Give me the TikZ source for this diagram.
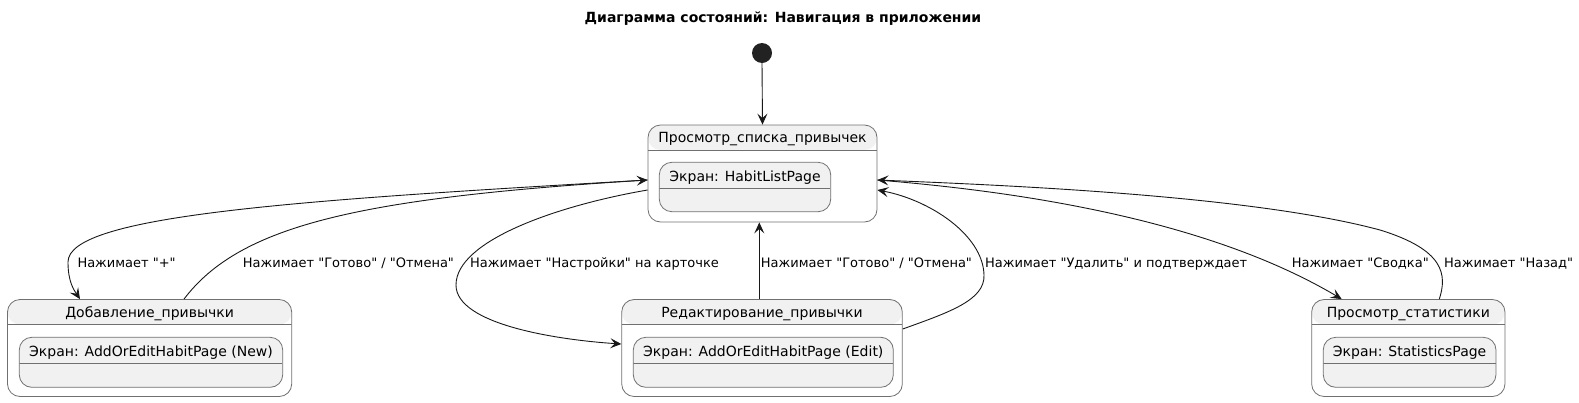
\documentclass[tikz,border=0pt]{standalone}
\usepackage{fontspec}
\setmainfont{DejaVu Sans}[Ligatures=TeXOff]
\usetikzlibrary{arrows.meta}
\definecolor{lineclr}{HTML}{181818}
\definecolor{boxclr}{HTML}{707070}
\definecolor{stategray}{HTML}{F1F1F1}
\definecolor{dotclr}{HTML}{222222}
\tikzset{
  stateouter/.style={draw=boxclr, line width=0.8pt, rounded corners=12.5pt, fill=white, inner sep=0pt,
    path picture={
      \fill[stategray] (path picture bounding box.north west) rectangle ([yshift=-25pt]path picture bounding box.north east);
      \draw[boxclr, line width=0.8pt] ([yshift=-25pt]path picture bounding box.north west) -- ([yshift=-25pt]path picture bounding box.north east);
    }},
  stateinner/.style={draw=boxclr, line width=0.8pt, rounded corners=12.5pt, fill=stategray, inner sep=0pt,
    path picture={
      \draw[boxclr, line width=0.8pt] ([yshift=-26pt]path picture bounding box.north west) -- ([yshift=-26pt]path picture bounding box.north east);
    }},
  stname/.style={anchor=base, inner sep=0pt, font=\fontsize{14pt}{16pt}\selectfont},
  elabel/.style={anchor=base west, inner sep=0pt, font=\fontsize{13pt}{15pt}\selectfont},
  arr/.style={draw=lineclr, line width=0.9pt, -{Stealth[length=11pt,width=10pt,inset=4.5pt]}},
}
\begin{document}
\begin{tikzpicture}[x=1pt, y=-1pt]
\useasboundingbox (0,0) rectangle (1579,402);

\node[anchor=base, inner sep=0pt, font=\fontsize{14pt}{16pt}\selectfont\bfseries] (title) at (783,22.7) {Диаграмма состояний: Навигация в приложении};

\node[circle, fill=dotclr, minimum size=20pt, inner sep=0pt] (init) at (762,53) {};

% states
\node[stateouter, minimum width=229pt, minimum height=97pt] (list) at (762.5,173.5) {};
\node[stateinner, minimum width=171.4pt, minimum height=49.4pt] (listI) at (745,187) {};
\node[stname] (listT) at (762.5,142.5) {Просмотр\_списка\_привычек};
\node[stname] (listIT) at (745,181.7) {Экран: HabitListPage};

\node[stateouter, minimum width=284.2pt, minimum height=97pt] (add) at (149.6,348) {};
\node[stateinner, minimum width=263.4pt, minimum height=50pt] (addI) at (151,362.3) {};
\node[stname] (addT) at (149.6,317.3) {Добавление\_привычки};
\node[stname] (addIT) at (151,356.7) {Экран: AddOrEditHabitPage (New)};

\node[stateouter, minimum width=280.6pt, minimum height=97pt] (edit) at (762,348) {};
\node[stateinner, minimum width=260pt, minimum height=50pt] (editI) at (763.3,362.3) {};
\node[stname] (editT) at (762,317.3) {Редактирование\_привычки};
\node[stname] (editIT) at (763.3,356.7) {Экран: AddOrEditHabitPage (Edit)};

\node[stateouter, minimum width=193.3pt, minimum height=97pt] (stat) at (1408.3,348) {};
\node[stateinner, minimum width=172.7pt, minimum height=50pt] (statI) at (1409.6,362.3) {};
\node[stname] (statT) at (1408.3,317.3) {Просмотр\_статистики};
\node[stname] (statIT) at (1409.6,356.7) {Экран: StatisticsPage};

% edges
\draw[arr] (init.south) -- (list.north);

\draw[arr] ([yshift=-6.5pt]list.west) .. controls (300,200) and (68,215) .. (68,262)
  .. controls (68,282) and (74,290) .. ([xshift=-69.6pt]add.north);

\draw[arr] ([xshift=34.4pt]add.north) .. controls (240,225) and (360,198) .. ([yshift=-6.5pt]list.west);

\draw[arr] ([yshift=-16.5pt]list.west) .. controls (560,205) and (456,240) .. (456,285)
  .. controls (456,325) and (560,340) .. ([yshift=4pt]edit.west);

\draw[arr] ([xshift=-2.7pt]edit.north) -- ([xshift=-3.2pt]list.south);

\draw[arr] ([yshift=19pt]edit.east) .. controls (950,312) and (985,300) .. (984,275)
  .. controls (983,235) and (930,200) .. ([yshift=-16.5pt]list.east);

\draw[arr] ([yshift=-6.5pt]list.east) .. controls (1000,190) and (1200,215) .. ([xshift=-66.6pt]stat.north);

\draw[arr] ([xshift=31pt]stat.north) .. controls (1447,275) and (1445,250) .. (1380,230)
  .. controls (1250,195) and (1000,185) .. ([yshift=-6.5pt]list.east);

% labels
\node[elabel] (l1) at (77.3,267.3) {Нажимает "+"};
\node[elabel] (l2) at (242.7,267.3) {Нажимает "Готово" / "Отмена"};
\node[elabel] (l3) at (470,267.3) {Нажимает "Настройки" на карточке};
\node[elabel] (l4) at (760.7,267.3) {Нажимает "Готово" / "Отмена"};
\node[elabel] (l5) at (985,267.3) {Нажимает "Удалить" и подтверждает};
\node[elabel] (l6) at (1291.7,267.3) {Нажимает "Сводка"};
\node[elabel] (l7) at (1444,267.3) {Нажимает "Назад"};
\end{tikzpicture}
\end{document}
